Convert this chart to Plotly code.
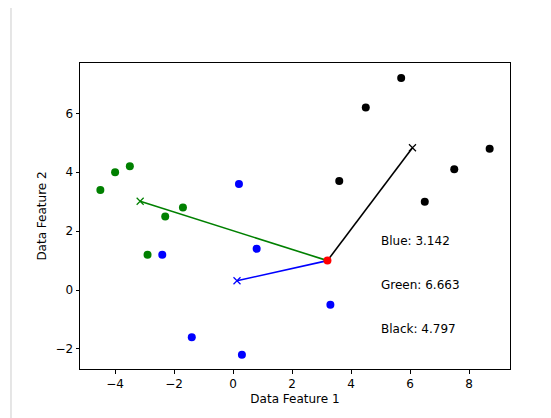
import numpy as np
import plotly.graph_objects as go

green_x = [-4.5, -4.0, -3.5, -1.7, -2.3, -2.9]
green_y = [3.4, 4.0, 4.2, 2.8, 2.5, 1.2]
blue_x = [0.2, 0.8, -2.4, 3.3, -1.4, 0.3]
blue_y = [3.6, 1.4, 1.2, -0.5, -1.6, -2.2]
black_x = [5.7, 4.5, 8.7, 7.5, 3.6, 6.5]
black_y = [7.2, 6.2, 4.8, 4.1, 3.7, 3.0]
query = (3.2, 1.0)
label_names = ["Blue", "Green", "Black"]
label_y = [1.5, 0.0, -1.5]
label_x = 5.0

groups = [("Blue", blue_x, blue_y, "#0000ff"),
          ("Green", green_x, green_y, "#008000"),
          ("Black", black_x, black_y, "#000000")]

fig = go.Figure()
dists = {}
for name, xs, ys, col in groups:
    fig.add_trace(go.Scatter(x=xs, y=ys, mode="markers",
                             marker=dict(color=col, size=8, line=dict(width=0)),
                             showlegend=False))
for name, xs, ys, col in groups:
    cx, cy = float(np.mean(xs)), float(np.mean(ys))
    dists[name] = float(np.hypot(cx - query[0], cy - query[1]))
    fig.add_trace(go.Scatter(x=[cx, query[0]], y=[cy, query[1]], mode="lines",
                             line=dict(color=col, width=1.6), showlegend=False))
    fig.add_trace(go.Scatter(x=[cx], y=[cy], mode="markers",
                             marker=dict(symbol="x-thin", size=7, color=col,
                                         line=dict(color=col, width=1.2)),
                             showlegend=False))
fig.add_trace(go.Scatter(x=[query[0]], y=[query[1]], mode="markers",
                         marker=dict(color="#ff0000", size=8, line=dict(width=0)),
                         showlegend=False))

for name, ly in zip(label_names, label_y):
    fig.add_annotation(x=label_x, y=ly, xref="x", yref="y",
                       text=f"{name}: {dists[name]:.3f}", showarrow=False,
                       xanchor="left", yanchor="bottom", xshift=-2, yshift=-4,
                       font=dict(family="DejaVu Sans", size=12, color="#000000"))

fig.add_shape(type="line", xref="paper", yref="paper",
              x0=-0.1605, x1=-0.1605, y0=-0.2, y1=1.3,
              line=dict(color="#cccccc", width=1))

axis_common = dict(showgrid=False, zeroline=False, showline=True, linecolor="black",
                   linewidth=1, mirror=True, ticks="outside", ticklen=3.5,
                   tickwidth=1, tickcolor="black",
                   tickfont=dict(family="DejaVu Sans", size=12, color="#000000"),
                   title_font=dict(family="DejaVu Sans", size=12, color="#000000"))

fig.update_layout(
    width=543, height=410,
    margin=dict(l=72, r=41, t=55, b=49),
    paper_bgcolor="white", plot_bgcolor="white",
    xaxis=dict(range=[-5.19, 9.39], tickvals=[-4, -2, 0, 2, 4, 6, 8],
               title=dict(text="Data Feature 1", standoff=4), **axis_common),
    yaxis=dict(range=[-2.68, 7.71], tickvals=[-2, 0, 2, 4, 6],
               title=dict(text="Data Feature 2", standoff=6), **axis_common),
)

fig.write_html("out.html")
